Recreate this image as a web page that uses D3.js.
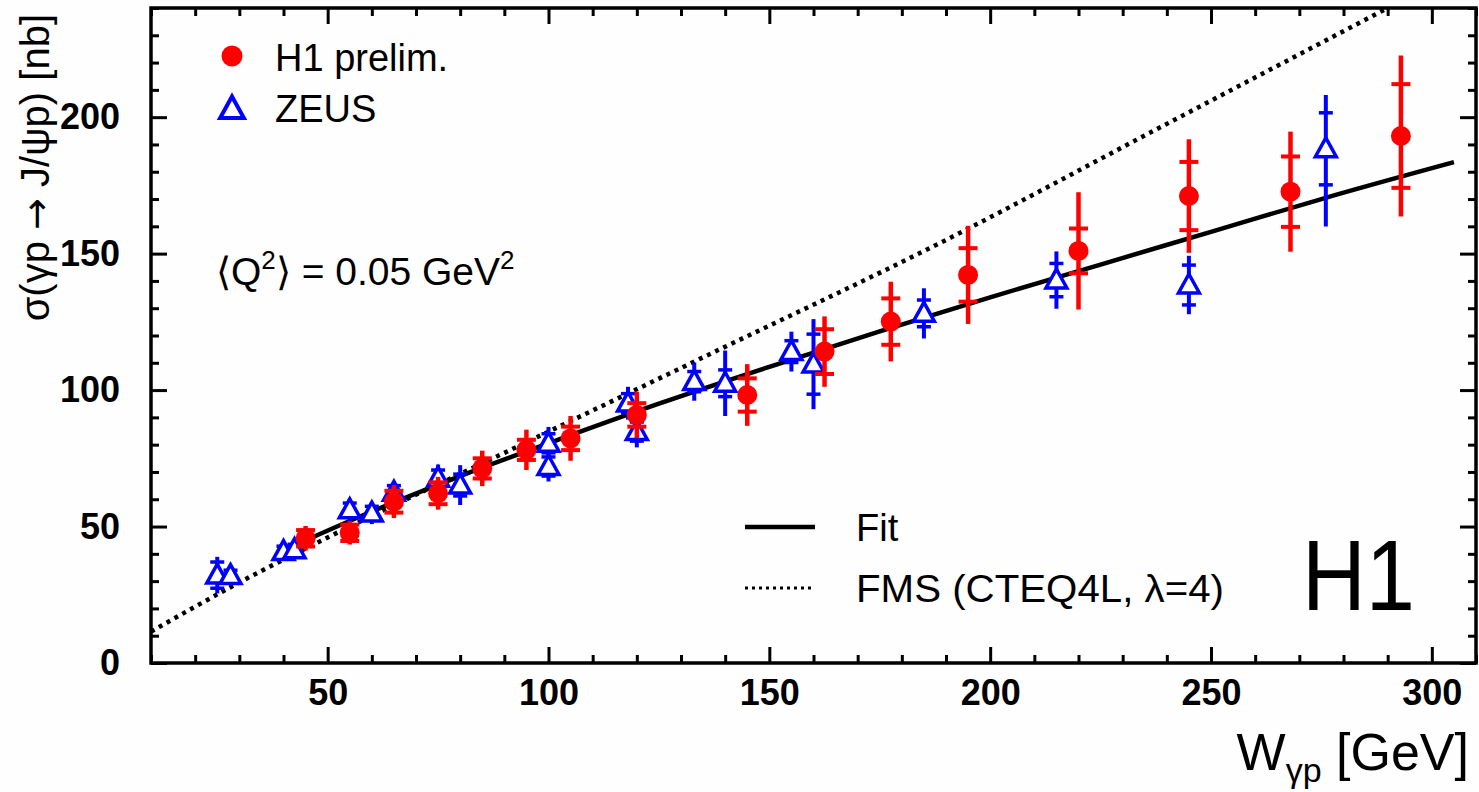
<!DOCTYPE html>
<html>
<head>
<meta charset="utf-8">
<script src="https://cdn.jsdelivr.net/npm/d3@7/dist/d3.min.js"></script>
<style>
  body { margin: 0; background: #fff; }
  text { font-family: "Liberation Sans", Arial, Helvetica, sans-serif; fill: #000; }
</style>
</head>
<body>
<svg id="chart"></svg>
<script>
// H1 preliminary: W, sigma, stat error, total error
const h1W     = [45, 55, 65, 75, 85, 95, 105, 120, 145, 162.5, 177.5, 195, 220, 245, 268, 293];
const h1Sigma = [45.7, 47.7, 59.1, 62.2, 71.3, 78.1, 82.3, 90.9, 98.2, 114.1, 125.1, 142.2, 151, 171.1, 172.7, 193.1];
const h1Stat  = [3, 3, 4, 4, 3.7, 3.7, 4.3, 4.3, 6.1, 8.2, 8.5, 9.8, 8.2, 12.5, 12.9, 19];
const h1Tot   = [4.5, 4.3, 6, 6, 6.5, 7.4, 8.2, 8.5, 11.3, 12.9, 14.6, 18, 21.5, 20.8, 22, 29.5];

// ZEUS
const zeusW     = [25, 28, 40, 42.5, 55, 60, 65, 75, 80, 100, 100, 118, 120, 133, 140, 155, 160, 185, 215, 245, 276];
const zeusSigma = [32.2, 32, 40.8, 41.5, 56.1, 54.9, 62.5, 67.7, 65.2, 80.5, 72, 95.2, 84.8, 103.1, 102.5, 114.1, 109.5, 128.1, 140.3, 138.5, 188.4];
const zeusStat  = [4.8, 2, 2, 2, 2.5, 2.5, 2.5, 3, 4, 3.5, 3.5, 3.5, 3.5, 3.7, 4.9, 4, 11, 4.9, 6.1, 7.3, 13.2];
const zeusTotUp = [6.7, 3, 3, 3, 4, 4, 4, 5, 7.3, 6, 5.5, 6, 5.8, 7, 12, 7.3, 16.5, 9.2, 10.5, 10.7, 19.7];
const zeusTotDn = [6.7, 3, 3, 3, 4, 4, 4, 5, 7.3, 6, 5.5, 6, 5.8, 7, 12, 7.3, 16.5, 9.2, 10.5, 10.7, 28.5];

// fit curve and FMS prediction
const fitW     = [43, 60, 80, 100, 125, 150, 175, 200, 225, 250, 275, 305];
const fitSigma = [43.5, 55.5, 68.5, 80.5, 95, 108.5, 121.5, 134, 146, 158, 170, 183.5];
const fmsW     = [10, 30, 50, 90, 135, 190, 237, 290];
const fmsSigma = [11.5, 29.5, 46, 77, 112, 155, 195, 240];

const xMajor = [50, 100, 150, 200, 250, 300];
const yMajor = [0, 50, 100, 150, 200];

const width = 1479, height = 792;
const svg = d3.select('#chart').attr('width', width).attr('height', height);
svg.append('rect').attr('width', width).attr('height', height).attr('fill', '#fefefe');

const x = d3.scaleLinear().domain([10, 310]).range([151, 1476]);
const y = d3.scaleLinear().domain([0, 240]).range([663, 8]);

const xMinor = d3.range(10, 311, 10).filter(v => v % 50 !== 0);
const yMinor = d3.range(0, 241, 10).filter(v => v % 50 !== 0);

// clip
svg.append('clipPath').attr('id', 'plot')
  .append('rect').attr('x', x(10)).attr('y', y(240))
  .attr('width', x(310) - x(10)).attr('height', y(0) - y(240));

// curves
const line = d3.line().x(d => x(d[0])).y(d => y(d[1])).curve(d3.curveMonotoneX);
svg.append('path')
  .datum(fmsW.map((w, i) => [w, fmsSigma[i]]))
  .attr('clip-path', 'url(#plot)')
  .attr('d', line).attr('fill', 'none').attr('stroke', '#000')
  .attr('stroke-width', 4.5).attr('stroke-dasharray', '4 5');
svg.append('path')
  .datum(fitW.map((w, i) => [w, fitSigma[i]]))
  .attr('d', line).attr('fill', 'none').attr('stroke', '#000')
  .attr('stroke-width', 4.5);

// ZEUS points
const zeus = zeusW.map((w, i) => ({ w, s: zeusSigma[i], st: zeusStat[i], up: zeusTotUp[i], dn: zeusTotDn[i] }));
const zg = svg.append('g');
zg.selectAll('line.bar').data(zeus).enter().append('line')
  .attr('x1', d => x(d.w)).attr('x2', d => x(d.w))
  .attr('y1', d => y(d.s + d.up)).attr('y2', d => y(d.s - d.dn))
  .attr('stroke', '#0000ff').attr('stroke-width', 4);
zeus.forEach(d => {
  [d.s + d.st, d.s - d.st].forEach(v => {
    zg.append('line')
      .attr('x1', x(d.w) - 7).attr('x2', x(d.w) + 7)
      .attr('y1', y(v)).attr('y2', y(v))
      .attr('stroke', '#0000ff').attr('stroke-width', 3.5);
  });
});
const tri = r => `M0,${-r}L${r * 0.95},${r * 0.72}L${-r * 0.95},${r * 0.72}Z`;
zg.selectAll('path.tri').data(zeus).enter().append('path')
  .attr('d', tri(11))
  .attr('transform', d => `translate(${x(d.w)},${y(d.s)})`)
  .attr('fill', '#fff').attr('stroke', '#0000ff').attr('stroke-width', 3.5);

// H1 points
const h1 = h1W.map((w, i) => ({ w, s: h1Sigma[i], st: h1Stat[i], tot: h1Tot[i] }));
const hg = svg.append('g');
hg.selectAll('line.bar').data(h1).enter().append('line')
  .attr('x1', d => x(d.w)).attr('x2', d => x(d.w))
  .attr('y1', d => y(d.s + d.tot)).attr('y2', d => y(d.s - d.tot))
  .attr('stroke', '#ff0000').attr('stroke-width', 4.5);
h1.forEach(d => {
  [d.s + d.st, d.s - d.st].forEach(v => {
    hg.append('line')
      .attr('x1', x(d.w) - 9.5).attr('x2', x(d.w) + 9.5)
      .attr('y1', y(v)).attr('y2', y(v))
      .attr('stroke', '#ff0000').attr('stroke-width', 4);
  });
});
hg.selectAll('circle').data(h1).enter().append('circle')
  .attr('cx', d => x(d.w)).attr('cy', d => y(d.s)).attr('r', 10)
  .attr('fill', '#ff0000');

// axes: ticks pointing inwards on all four sides
function styleAxis(g) {
  g.select('.domain').remove();
  g.selectAll('line').attr('stroke', '#000').attr('stroke-width', 3);
}
const tickFont = g => g.selectAll('text')
  .attr('font-family', '"Liberation Sans", Arial, sans-serif')
  .attr('font-size', 36).attr('font-weight', 'bold').attr('fill', '#000');

svg.append('g').attr('transform', `translate(0,${y(0)})`)
  .call(d3.axisBottom(x).tickValues(xMajor).tickSize(-16).tickPadding(16).tickFormat(d3.format('d')))
  .call(styleAxis).call(tickFont);
svg.append('g').attr('transform', `translate(0,${y(0)})`)
  .call(d3.axisBottom(x).tickValues(xMinor).tickSize(-8).tickFormat(''))
  .call(styleAxis);
svg.append('g').attr('transform', `translate(0,${y(240)})`)
  .call(d3.axisTop(x).tickValues(xMajor).tickSize(-16).tickFormat(''))
  .call(styleAxis);
svg.append('g').attr('transform', `translate(0,${y(240)})`)
  .call(d3.axisTop(x).tickValues(xMinor).tickSize(-8).tickFormat(''))
  .call(styleAxis);

svg.append('g').attr('transform', `translate(${x(10)},0)`)
  .call(d3.axisLeft(y).tickValues(yMajor).tickSize(-16).tickPadding(31).tickFormat(d3.format('d')))
  .call(styleAxis).call(tickFont);
svg.append('g').attr('transform', `translate(${x(10)},0)`)
  .call(d3.axisLeft(y).tickValues(yMinor).tickSize(-8).tickFormat(''))
  .call(styleAxis);
svg.append('g').attr('transform', `translate(${x(310)},0)`)
  .call(d3.axisRight(y).tickValues(yMajor).tickSize(-16).tickFormat(''))
  .call(styleAxis);
svg.append('g').attr('transform', `translate(${x(310)},0)`)
  .call(d3.axisRight(y).tickValues(yMinor).tickSize(-8).tickFormat(''))
  .call(styleAxis);

// frame
svg.append('rect')
  .attr('x', x(10)).attr('y', y(240))
  .attr('width', x(310) - x(10)).attr('height', y(0) - y(240))
  .attr('fill', 'none').attr('stroke', '#000').attr('stroke-width', 3.5);

// axis titles
const yt = svg.append('text')
  .attr('transform', 'translate(49,14) rotate(-90)')
  .attr('text-anchor', 'end').attr('font-size', 40);
yt.append('tspan').text('σ(γp ');
yt.append('tspan').attr('font-family', '"DejaVu Sans", sans-serif').attr('font-size', 38).text('→');
yt.append('tspan').text(' J/ψp) [nb]');

const xt = svg.append('text').attr('x', 1469).attr('y', 770)
  .attr('text-anchor', 'end').attr('font-size', 52);
xt.append('tspan').text('W');
xt.append('tspan').attr('font-size', 34).attr('dy', 12).text('γp');
xt.append('tspan').attr('dy', -12).text(' [GeV]');

// legend: markers
svg.append('circle').attr('cx', 232).attr('cy', 56).attr('r', 10.5).attr('fill', '#ff0000');
svg.append('text').attr('x', 275).attr('y', 71).attr('font-size', 38).text('H1 prelim.');
svg.append('path').attr('d', tri(12.5)).attr('transform', 'translate(232,109)')
  .attr('fill', '#fff').attr('stroke', '#0000ff').attr('stroke-width', 4);
svg.append('text').attr('x', 275).attr('y', 122).attr('font-size', 38).text('ZEUS');

// Q2 annotation
const q = svg.append('text').attr('x', 216).attr('y', 285).attr('font-size', 39);
q.append('tspan').text('⟨Q');
q.append('tspan').attr('font-size', 26).attr('dy', -16).text('2');
q.append('tspan').attr('dy', 16).text('⟩ = 0.05 GeV');
q.append('tspan').attr('font-size', 26).attr('dy', -16).text('2');

// legend: curves
svg.append('line').attr('x1', 745).attr('x2', 815).attr('y1', 527).attr('y2', 527)
  .attr('stroke', '#000').attr('stroke-width', 4.5);
svg.append('text').attr('x', 856).attr('y', 541).attr('font-size', 38).text('Fit');
svg.append('line').attr('x1', 745).attr('x2', 815).attr('y1', 588).attr('y2', 588)
  .attr('stroke', '#000').attr('stroke-width', 3).attr('stroke-dasharray', '3 4');
svg.append('text').attr('x', 856).attr('y', 602).attr('font-size', 38)
  .attr('textLength', 368).attr('lengthAdjust', 'spacingAndGlyphs').text('FMS (CTEQ4L, λ=4)');

// experiment label
svg.append('text').attr('x', 1302).attr('y', 610).attr('font-size', 100)
  .attr('textLength', 113).attr('lengthAdjust', 'spacingAndGlyphs').text('H1');
</script>
</body>
</html>
